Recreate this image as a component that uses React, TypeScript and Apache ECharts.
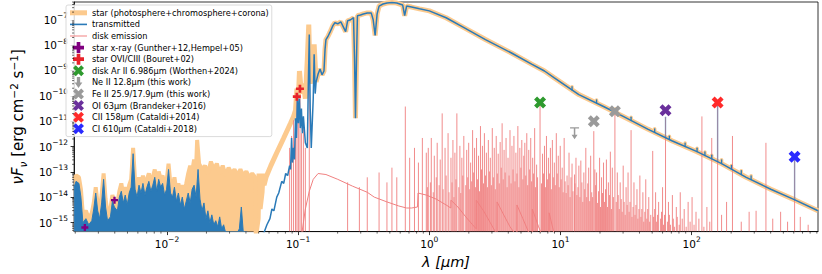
import React, { useEffect, useRef } from "react";
import * as echarts from "echarts";

const FONT = "DejaVu Sans";
// axis extents, log10 units
const xLogRange = [-2.708, 2.963];
const yLogRange = [-15.35, -6.3];

// All spectra below: [log10 λ (μm), log10 νFν (erg cm^-2 s^-1)]
const starXUV: number[][] = [
  [-2.708,-13.29],[-2.693,-13.14],[-2.671,-13.21],[-2.656,-13.68],[-2.641,-14.69],[-2.618,-14.53],[-2.596,-14.84],[-2.573,-14.61],[-2.558,-14.22],[-2.543,-13.60],[-2.528,-14.30],[-2.513,-14.53],[-2.498,-13.91],[-2.483,-13.06],[-2.468,-14.07],[-2.453,-14.61],[-2.431,-14.46],[-2.416,-13.91],[-2.401,-14.15],[-2.378,-14.22],[-2.363,-13.76],[-2.348,-13.45],[-2.333,-13.91],[-2.318,-13.60],[-2.303,-13.99],[-2.288,-13.52],[-2.273,-13.29],[-2.258,-12.05],[-2.243,-13.37],[-2.228,-13.68],[-2.213,-13.21],[-2.198,-13.52],[-2.183,-13.14],[-2.168,-13.60],[-2.153,-13.29],[-2.138,-13.06],[-2.123,-13.45],[-2.108,-13.21],[-2.093,-12.90],[-2.078,-13.45],[-2.063,-12.98],[-2.048,-13.29],[-2.033,-13.14],[-2.018,-13.60],[-2.003,-13.37],[-1.988,-12.67],[-1.973,-13.52],[-1.958,-13.60],[-1.943,-13.21],[-1.928,-13.76],[-1.913,-13.45],[-1.898,-13.83],[-1.883,-13.52],[-1.868,-13.83],[-1.853,-13.45],[-1.838,-13.06],[-1.823,-12.75],[-1.808,-12.98],[-1.793,-12.51],[-1.778,-12.83],[-1.770,-11.74],[-1.755,-12.67],[-1.733,-12.90],[-1.710,-12.75],[-1.688,-13.06],[-1.665,-12.59],[-1.643,-12.90],[-1.620,-12.67],[-1.598,-13.06],[-1.575,-12.75],[-1.553,-13.14],[-1.530,-12.83],[-1.508,-13.06],[-1.485,-12.90],[-1.463,-13.14],[-1.440,-12.90],[-1.418,-13.14],[-1.395,-12.98],[-1.373,-13.21],[-1.350,-13.06],[-1.328,-13.21],[-1.322,-15.6]
];
const starFUV: number[][] = [
  [-1.320,-15.39],[-1.305,-14.84],[-1.298,-13.06],[-1.290,-14.46],[-1.275,-13.80],[-1.268,-13.06],[-1.260,-13.52],[-1.245,-13.21],[-1.208,-12.75],[-1.163,-12.24],[-1.110,-11.66],[-1.058,-11.08],[-1.035,-10.81],[-1.020,-10.57],[-1.009,-9.72],[-0.998,-10.11],[-0.990,-9.02],[-0.975,-9.91],[-0.960,-9.52],[-0.945,-10.11],[-0.930,-8.55],[-0.919,-7.19],[-0.908,-9.52],[-0.893,-8.94],[-0.878,-7.97]
];
const transXUV: number[][] = [
  [-2.708,-13.60],[-2.693,-13.37],[-2.671,-13.45],[-2.656,-13.99],[-2.641,-15.00],[-2.618,-14.84],[-2.596,-15.08],[-2.573,-14.92],[-2.558,-14.46],[-2.543,-13.83],[-2.528,-14.53],[-2.513,-14.84],[-2.498,-14.22],[-2.483,-13.29],[-2.468,-14.38],[-2.453,-14.92],[-2.431,-14.77],[-2.416,-14.15],[-2.401,-14.38],[-2.378,-14.53],[-2.363,-13.99],[-2.348,-13.76],[-2.333,-14.22],[-2.318,-13.91],[-2.303,-14.30],[-2.288,-13.83],[-2.273,-13.60],[-2.258,-12.28],[-2.243,-13.68],[-2.228,-13.99],[-2.213,-13.52],[-2.198,-13.83],[-2.183,-13.45],[-2.168,-13.91],[-2.153,-13.60],[-2.138,-13.37],[-2.123,-13.76],[-2.108,-13.52],[-2.093,-13.21],[-2.078,-13.76],[-2.063,-13.29],[-2.048,-13.60],[-2.033,-13.45],[-2.018,-13.91],[-2.003,-13.68],[-1.988,-12.90],[-1.973,-13.83],[-1.958,-13.99],[-1.943,-13.60],[-1.928,-14.15],[-1.913,-13.83],[-1.898,-14.30],[-1.883,-13.99],[-1.868,-14.46],[-1.853,-14.15],[-1.838,-13.83],[-1.823,-14.22],[-1.808,-13.68],[-1.793,-13.52],[-1.778,-13.99],[-1.763,-12.90],[-1.748,-14.07],[-1.733,-14.53],[-1.718,-14.22],[-1.703,-14.84],[-1.688,-14.53],[-1.673,-15.00],[-1.658,-14.69],[-1.643,-15.08],[-1.628,-14.92],[-1.613,-15.16],[-1.598,-14.77],[-1.583,-15.24],[-1.568,-15.08],[-1.553,-15.39],[-1.523,-15.54],[-1.478,-15.54],[-1.448,-15.24],[-1.433,-14.38],[-1.418,-15.39],[-1.388,-15.54]
];
const transFUV: number[][] = [
  [-1.298,-15.54],[-1.260,-15.39],[-1.238,-15.08],[-1.215,-14.84],[-1.200,-14.46],[-1.185,-14.53],[-1.163,-13.99],[-1.148,-13.83],[-1.125,-13.37],[-1.110,-13.45],[-1.095,-13.06],[-1.080,-13.14],[-1.065,-12.75],[-1.058,-12.90],[-1.050,-11.66],[-1.043,-12.63],[-1.035,-12.05],[-1.028,-12.51],[-1.020,-10.88],[-1.013,-11.66],[-1.005,-9.91],[-0.998,-11.08],[-0.990,-10.11],[-0.983,-11.27],[-0.975,-10.50],[-0.968,-11.47],[-0.960,-10.81],[-0.945,-11.85],[-0.930,-12.05],[-0.923,-9.72],[-0.915,-7.58],[-0.908,-10.50],[-0.900,-12.05],[-0.885,-10.11],[-0.878,-8.36],[-0.870,-9.91]
];
const photosphere: number[][] = [
  [-0.863,-9.45],[-0.848,-9.14],[-0.833,-8.94],[-0.818,-9.17],[-0.803,-9.02],[-0.795,-8.17],[-0.788,-7.78],[-0.773,-7.66],[-0.758,-7.50],[-0.735,-7.23],[-0.720,-7.12],[-0.698,-7.16],[-0.675,-7.08],[-0.653,-7.31],[-0.638,-7.47],[-0.623,-7.04],[-0.600,-7.00],[-0.578,-6.92],[-0.570,-8.55],[-0.563,-10.88],[-0.555,-8.55],[-0.548,-6.84],[-0.525,-6.81],[-0.503,-6.77],[-0.473,-6.73],[-0.443,-6.73],[-0.428,-7.00],[-0.413,-7.62],[-0.398,-6.77],[-0.383,-6.46],[-0.353,-6.38],[-0.323,-6.34],[-0.285,-6.32],[-0.248,-6.34],[-0.203,-6.42],[-0.188,-6.84],[-0.173,-6.46],[-0.135,-6.50],[-0.075,-6.57],[0,-6.65],[0.128,-6.92],[0.278,-7.35],[0.428,-7.78],[0.630,-8.32],[0.780,-8.75],[0.878,-9.02],[0.953,-9.29],[1.140,-9.95],[1.328,-10.42],[1.478,-10.81],[1.665,-11.31],[1.853,-11.78],[2.041,-12.20],[2.228,-12.67],[2.416,-13.21],[2.603,-13.68],[2.791,-14.11],[2.963,-14.53]
];
// small line features on the long-wavelength tail: [log10 λ, log10 base, log10 peak]
const tailFeatures: number[][] = [
  [1.088,-9.77,-9.64],[1.275,-10.29,-10.16],[1.418,-10.65,-10.52],[1.538,-10.97,-10.84],[1.718,-11.44,-11.30],[1.830,-11.72,-11.59],[1.950,-12.00,-11.86],[2.041,-12.20,-12.06],[2.101,-12.35,-12.21],[2.153,-12.48,-12.34],[2.228,-12.67,-12.52],[2.303,-12.89,-12.74],[2.378,-13.10,-12.95],[2.453,-13.30,-13.15]
];
// transmitted line emission under the far-IR markers: [log10 λ, log10 base, log10 peak]
const tailStems: number[][] = [
  [1.8006,-11.65,-10.84],[2.1978,-12.59,-10.30],[2.7846,-14.10,-12.42]
];
const diskContinuum: number[][] = [
  [-0.975,-15.54],[-0.945,-14.46],[-0.915,-13.76],[-0.885,-13.29],[-0.848,-13.06],[-0.788,-13.10],[-0.698,-13.29],[-0.585,-13.56],[-0.473,-13.80],[-0.420,-13.99],[-0.323,-14.18],[-0.233,-14.34],[-0.173,-14.42],[-0.135,-14.42],[-0.090,-14.38],[-0.086,-13.83],[-0.023,-13.91],[0.053,-14.07],[0.128,-14.30],[0.164,-14.42],[0.1645,-14.11],[0.218,-14.38],[0.278,-14.77],[0.330,-15.08],[0.3575,-15.24],[0.358,-14.11],[0.413,-14.53],[0.465,-15.00],[0.5157,-15.47],[0.5165,-14.18],[0.563,-14.65],[0.615,-15.16],[0.6674,-15.54],[0.668,-14.30],[0.713,-14.84],[0.765,-15.47],[0.7845,-15.54],[0.785,-14.46],[0.833,-15.16],[0.863,-15.54],[0.9125,-15.54],[0.9135,-14.61],[0.953,-15.47],[0.968,-15.6]
];
const diskLinesUV: number[][] = [
  [-1.065,-12.05],[-1.050,-11.58],[-1.035,-10.96],[-1.020,-11.27],[-1.009,-10.18],[-0.998,-10.81],[-0.986,-9.95],[-0.975,-11.47],[-0.960,-11.19],[-0.945,-12.05],[-0.915,-8.94],
  [-0.623,-13.41],[-0.533,-13.60],[-0.473,-13.21],[-0.383,-13.02],[-0.323,-13.41],[-0.285,-12.83],[-0.248,-13.21],[-0.183,-10.42],[-0.150,-12.44],[-0.113,-12.05],[-0.083,-12.63],[-0.053,-11.66],[-0.023,-12.24]
];
const diskLinesIR: number[][] = [
  [-0.008,-12.05],[0.015,-11.66],[0.038,-12.36],[0.060,-11.85],[0.083,-12.51],[0.098,-10.69],[0.120,-12.05],[0.143,-11.47],[0.165,-12.44],[0.180,-11.74],[0.195,-12.24],[0.210,-10.69],[0.233,-11.97],[0.248,-12.44],[0.263,-11.58],[0.285,-12.13],[0.300,-11.85],[0.315,-12.63],[0.330,-11.35],[0.345,-12.05],[0.360,-11.66],[0.375,-12.36],[0.390,-11.19],[0.405,-11.97],[0.420,-11.47],[0.435,-12.24],[0.450,-11.74],[0.465,-12.44],[0.480,-11.27],[0.495,-12.05],[0.510,-11.58],[0.525,-12.28],[0.540,-11.82],[0.555,-11.08],[0.570,-12.13],[0.585,-11.66],[0.600,-12.44],[0.615,-11.35],[0.630,-11.97],[0.645,-11.58],[0.660,-12.24],[0.675,-11.19],[0.690,-12.05],[0.705,-11.74],[0.720,-12.36],[0.728,-11.85],[0.743,-11.47],[0.758,-12.13],[0.773,-11.66],[0.788,-12.44],[0.803,-11.27],[0.818,-12.71],[0.844,-10.26],[0.863,-12.28],[0.878,-11.97],[0.893,-11.58],[0.908,-12.44],[0.923,-12.05],[0.938,-11.74],[0.953,-12.63],[0.968,-11.47],[0.983,-12.36],[0.998,-11.97],[1.013,-12.83],[1.028,-11.66],[1.050,-13.14],[1.065,-12.24],[1.088,-12.67],[1.107,-13.10],[1.118,-12.44],[1.140,-12.75],[1.155,-12.55],[1.178,-13.02],[1.193,-12.05],[1.215,-12.83],[1.230,-12.36],[1.2538,-11.39],[1.262,-12.90],[1.275,-13.02],[1.298,-12.44],[1.313,-13.21],[1.328,-12.63],[1.350,-12.51],[1.365,-13.41],[1.380,-12.20],[1.395,-12.83],[1.4148,-10.57],[1.433,-13.02],[1.455,-13.41],[1.478,-12.75],[1.500,-13.60],[1.515,-13.02],[1.538,-11.35],[1.560,-13.41],[1.583,-13.68],[1.605,-13.14],[1.628,-13.80],[1.650,-13.29],[1.673,-13.99],[1.703,-12.17],[1.725,-13.80],[1.748,-14.18],[1.778,-13.60],[1.8006,-10.84],[1.823,-14.18],[1.853,-13.91],[1.883,-14.38],[1.913,-13.80],[1.943,-14.46],[1.973,-14.18],[2.003,-13.99],[2.033,-14.57],[2.078,-10.81],[2.116,-14.38],[2.153,-11.66],[2.1978,-10.26],[2.228,-14.69],[2.266,-14.18],[2.311,-11.58],[2.378,-14.96],[2.438,-14.57],[2.491,-14.53],[2.566,-11.85],[2.618,-14.84],[2.678,-14.57],[2.731,-14.96],[2.7846,-12.40],[2.828,-14.77],[2.888,-15.08]
];
const diskLinesWeak: number[][] = [
  [-0.015,-13.60],[0.008,-13.41],[0.030,-13.80],[0.053,-13.21],[0.075,-13.52],[0.105,-13.68],[0.128,-13.14],[0.150,-13.80],[0.173,-13.41],[0.188,-13.99],[0.203,-13.29],[0.225,-13.60],[0.240,-13.83],[0.255,-13.14],[0.278,-13.52],[0.293,-13.21],[0.308,-13.68],[0.323,-13.37],[0.338,-13.02],[0.353,-13.60],[0.368,-13.29],[0.383,-13.76],[0.398,-12.90],[0.413,-13.45],[0.428,-13.14],[0.443,-13.60],[0.458,-12.98],[0.473,-13.52],[0.488,-13.21],[0.503,-13.68],[0.518,-13.06],[0.533,-13.45],[0.548,-12.83],[0.563,-13.29],[0.578,-13.02],[0.593,-13.60],[0.608,-13.14],[0.623,-13.45],[0.638,-12.90],[0.653,-13.37],[0.668,-13.06],[0.683,-13.60],[0.698,-12.83],[0.713,-13.29],[0.735,-13.14],[0.750,-13.52],[0.765,-12.90],[0.780,-13.37],[0.795,-13.06],[0.810,-13.60],[0.825,-13.21],[0.855,-13.45],[0.870,-13.06],[0.885,-13.60],[0.900,-13.29],[0.915,-13.06],[0.930,-13.68],[0.945,-13.21],[0.960,-13.52],[0.975,-13.06],[0.990,-13.60],[1.005,-13.29],[1.020,-13.80],[1.035,-13.37],[1.043,-13.83],[1.058,-13.52],[1.073,-13.99],[1.080,-13.21],[1.095,-13.76],[1.110,-13.45],[1.125,-13.91],[1.133,-13.60],[1.148,-13.99],[1.163,-13.41],[1.170,-14.18],[1.185,-13.68],[1.200,-13.99],[1.208,-13.45],[1.223,-14.15],[1.238,-13.80],[1.245,-13.99],[1.268,-13.52],[1.283,-14.22],[1.290,-13.76],[1.305,-14.38],[1.320,-13.83],[1.335,-14.18],[1.343,-13.68],[1.358,-14.38],[1.373,-13.91],[1.388,-14.46],[1.403,-13.99],[1.425,-14.18],[1.440,-13.91],[1.448,-14.46],[1.463,-14.07],[1.470,-14.57],[1.485,-14.18],[1.493,-14.69],[1.508,-14.30],[1.523,-14.57],[1.530,-14.18],[1.545,-14.77],[1.553,-14.38],[1.568,-14.69],[1.575,-14.30],[1.590,-14.84],[1.598,-14.46],[1.613,-14.77],[1.620,-14.46],[1.635,-14.96],[1.643,-14.57],[1.658,-14.84],[1.665,-14.46],[1.680,-14.96],[1.688,-14.69],[1.710,-14.77],[1.718,-14.46],[1.733,-14.96],[1.740,-14.69],[1.763,-14.84],[1.770,-14.57],[1.785,-15.08],[1.793,-14.69],[1.815,-14.96],[1.830,-14.69],[1.838,-15.08],[1.860,-14.84],[1.868,-15.16],[1.890,-14.77],[1.905,-15.08],[1.928,-14.84],[1.958,-15.16],[1.988,-14.96],[2.018,-15.08],[2.055,-14.84],[2.093,-15.16],[2.138,-14.96]
];
// Observations: [log10 λ (μm), log10 νFν]
const xrayObs: number[][] = [[-2.626,-15.19],[-2.400,-14.11]];
const oviObs: number[][] = [[-0.9863,-9.72],[-1.010,-10.03]];
const arIIObs: number[][] = [[0.8443,-10.26]];
const neIIObs: number[][] = [[1.1072,-11.47]];
const feIIObs: number[][] = [[1.4148,-10.61],[1.2538,-11.00]];
const oIObs: number[][] = [[1.8006,-10.57]];
const cIIObs: number[][] = [[2.1978,-10.26]];
const cIObs: number[][] = [[2.7846,-12.40]];

const minorMultipliers = [2, 3, 4, 5, 6, 7, 8, 9];
const xDecades = [-3, -2, -1, 0, 1, 2];
const yDecades = [-16, -15, -14, -13, -12, -11, -10, -9, -8, -7];

const NAMES = {
  star: "star (photosphere+chromosphere+corona)",
  trans: "transmitted",
  disk: "disk emission",
  xray: "star x-ray (Gunther+12,Hempel+05)",
  ovi: "star OVI/CIII (Bouret+02)",
  ar: "disk Ar II 6.986μm (Worthen+2024)",
  ne: "Ne II 12.8μm (this work)",
  fe: "Fe II 25.9/17.9μm (this work)",
  oi: "OI 63μm (Brandeker+2016)",
  cii: "CII 158μm (Cataldi+2014)",
  ci: "CI 610μm (Cataldi+2018)",
};

const C = {
  star: "#fcca8e",
  trans: "#2a7ab8",
  disk: "#f08080",
  xray: "#800080",
  ovi: "#e8222a",
  ar: "#2e9a2e",
  gray: "#9a9a9a",
  oi: "#6a309c",
  cii: "#ff2a2a",
  ci: "#2a2aff",
};

const PLUS = "path://M-1,-3H1V-1H3V1H1V3H-1V1H-3V-1H-1Z";
const XMARK = "path://M141,-283L283,-141L141,0L283,141L141,283L0,141L-141,283L-283,141L-141,0L-283,-141L-141,-283L0,-141Z";
const ULIM = "path://M-30,-50H30V-40H5V10H20L0,45L-20,10H-5V-40H-30Z";
const ARROW = "path://M-15,-50H15V0H35L0,50L-35,0H-15Z";

const lin = (a: number[][]) => a.map((r) => r.map((v) => Math.pow(10, v)));

export default function App() {
  const ref = useRef<HTMLDivElement>(null);
  useEffect(() => {
    if (!ref.current) return;
    const chart = echarts.init(ref.current, null, { renderer: "svg" });
    const xMin = Math.pow(10, xLogRange[0]);
    const xMax = Math.pow(10, xLogRange[1]);
    const yMin = Math.pow(10, yLogRange[0]);
    const yMax = Math.pow(10, yLogRange[1]);

    const xMinor: number[][] = [];
    xDecades.forEach((d) => minorMultipliers.forEach((m) => {
      const v = m * Math.pow(10, d);
      if (v > xMin && v < xMax) xMinor.push([v, yMin]);
    }));
    const yMinor: number[][] = [];
    yDecades.forEach((d) => minorMultipliers.forEach((m) => {
      const v = m * Math.pow(10, d);
      if (v > yMin && v < yMax) yMinor.push([xMin, v]);
    }));

    const spikes = (color: string, width: number, opacity = 1) => (params: any, api: any) => {
      const x = api.value(0);
      const y = api.value(1);
      const p1 = api.coord([x, y]);
      const p0 = api.coord([x, yMin]);
      return {
        type: "line",
        shape: { x1: p0[0], y1: p0[1], x2: p1[0], y2: p1[1] },
        style: { stroke: color, lineWidth: width, opacity },
      };
    };
    const ticks = (color: string, width: number, opacity = 1) => (params: any, api: any) => {
      const x = api.value(0);
      const p0 = api.coord([x, api.value(1)]);
      const p1 = api.coord([x, api.value(2)]);
      return {
        type: "line",
        shape: { x1: p0[0], y1: p0[1], x2: p1[0], y2: p1[1] },
        style: { stroke: color, lineWidth: width, opacity, lineCap: "round" },
      };
    };

    const fmt = (v: number) => {
      const e = Math.round(Math.log10(v));
      return `{b|10}{s|${e < 0 ? "\u2212" : ""}${Math.abs(e)}}`;
    };
    const tickRich = {
      b: { fontSize: 10.5, fontFamily: FONT, color: "#000", lineHeight: 16 },
      s: { fontSize: 7.5, fontFamily: FONT, color: "#000", lineHeight: 7, verticalAlign: "top" },
    };

    const scatter = (name: string, data: number[][], symbol: string, size: any, color: string) => ({
      type: "scatter",
      name,
      data: lin(data),
      symbol,
      symbolSize: size,
      itemStyle: { color, opacity: 1 },
      z: 10,
    });

    const legendLine = (name: string, color: string, h: number) => ({
      name,
      icon: `path://M0,0H17V${h}H0Z`,
      itemStyle: { color, borderWidth: 0 },
    });
    const legendMark = (name: string, icon: string, color: string) => ({
      name,
      icon,
      itemStyle: { color, borderWidth: 0 },
    });

    const option: any = {
      animation: false,
      backgroundColor: "#ffffff",
      grid: {
        left: 62, right: 4, top: 2, bottom: 39,
        show: true, borderColor: "#000", borderWidth: 0.8, containLabel: false,
      },
      xAxis: {
        type: "log", logBase: 10, min: xMin, max: xMax,
        name: "λ [μm]", nameLocation: "middle", nameGap: 17,
        nameTextStyle: { fontSize: 14.5, fontFamily: FONT, fontStyle: "italic", color: "#000" },
        axisLine: { lineStyle: { color: "#000", width: 0.8 } },
        axisTick: { show: true, inside: false, length: 3.5, lineStyle: { color: "#000", width: 0.8 } },
        axisLabel: { formatter: fmt, rich: tickRich, margin: 4, showMinLabel: false, showMaxLabel: false },
        splitLine: { show: false },
      },
      yAxis: {
        type: "log", logBase: 10, min: yMin, max: yMax,
        name: "{i|νF}{is|ν}{n| [erg cm}{sp|−2}{n| s}{sp|−1}{n|]}",
        nameLocation: "middle", nameGap: 34, nameRotate: 90,
        nameTextStyle: {
          rich: {
            i: { fontSize: 15, fontFamily: FONT, fontStyle: "italic", color: "#000", lineHeight: 20 },
            is: { fontSize: 10.5, fontFamily: FONT, fontStyle: "italic", color: "#000", lineHeight: 13, verticalAlign: "bottom" },
            n: { fontSize: 15, fontFamily: FONT, color: "#000", lineHeight: 20 },
            sp: { fontSize: 10.5, fontFamily: FONT, color: "#000", lineHeight: 11, verticalAlign: "top" },
          },
        },
        axisLine: { lineStyle: { color: "#000", width: 0.8 } },
        axisTick: { show: true, inside: false, length: 3.5, lineStyle: { color: "#000", width: 0.8 } },
        axisLabel: { formatter: fmt, rich: tickRich, margin: 6, showMinLabel: false, showMaxLabel: false },
        splitLine: { show: false },
      },
      legend: {
        orient: "vertical", left: 66, top: 5,
        itemWidth: 17, itemHeight: 11, itemGap: 0,
        padding: [2, 3, 2, 4],
        backgroundColor: "rgba(255,255,255,0.85)",
        borderColor: "#d0d0d0", borderWidth: 0.8, borderRadius: 2,
        selectedMode: false,
        textStyle: { fontSize: 8.2, fontFamily: FONT, color: "#000", lineHeight: 11.6 },
        data: [
          legendLine(NAMES.star, C.star, 5),
          legendLine(NAMES.trans, C.trans, 1.6),
          legendLine(NAMES.disk, C.disk, 1),
          legendMark(NAMES.xray, PLUS, C.xray),
          legendMark(NAMES.ovi, PLUS, C.ovi),
          legendMark(NAMES.ar, XMARK, C.ar),
          legendMark(NAMES.ne, ARROW, C.gray),
          legendMark(NAMES.fe, XMARK, C.gray),
          legendMark(NAMES.oi, XMARK, C.oi),
          legendMark(NAMES.cii, XMARK, C.cii),
          legendMark(NAMES.ci, XMARK, C.ci),
        ],
      },
      series: [
        {
          type: "line", name: NAMES.star, data: lin(starFUV.concat(photosphere)),
          showSymbol: false, symbol: "none", lineStyle: { color: C.star, width: 5 }, z: 1,
        },
        {
          type: "line", name: NAMES.star, data: lin(starXUV),
          showSymbol: false, symbol: "none", lineStyle: { color: C.star, width: 4 },
          areaStyle: { color: C.star, opacity: 1, origin: "start" }, z: 1,
        },
        {
          type: "custom", name: NAMES.star, data: lin(tailFeatures), renderItem: ticks(C.star, 3.5), clip: true, z: 1,
        },
        {
          type: "line", name: NAMES.disk, data: lin(diskContinuum),
          showSymbol: false, symbol: "none", lineStyle: { color: C.disk, width: 1 }, z: 2,
        },
        {
          type: "custom", name: NAMES.disk, data: lin(diskLinesWeak), renderItem: spikes(C.disk, 1, 0.9), clip: true, z: 2,
        },
        {
          type: "custom", name: NAMES.disk, data: lin(diskLinesUV.concat(diskLinesIR)), renderItem: spikes(C.disk, 1, 0.9), clip: true, z: 2,
        },
        {
          type: "line", name: NAMES.trans, data: lin(transXUV),
          showSymbol: false, symbol: "none", lineStyle: { color: C.trans, width: 1 },
          areaStyle: { color: C.trans, opacity: 1, origin: "start" }, z: 3,
        },
        {
          type: "line", name: NAMES.trans, data: lin(transFUV.concat(photosphere)),
          showSymbol: false, symbol: "none", lineStyle: { color: C.trans, width: 1.5 }, z: 3,
        },
        {
          type: "custom", name: NAMES.trans, data: lin(tailFeatures), renderItem: ticks(C.trans, 1.3), clip: true, z: 3,
        },
        {
          type: "custom", name: NAMES.trans, data: lin(tailStems), renderItem: ticks(C.trans, 1.5, 0.45), clip: true, z: 3,
        },
        scatter(NAMES.xray, xrayObs, PLUS, 7, C.xray),
        scatter(NAMES.ovi, oviObs, PLUS, 8, C.ovi),
        scatter(NAMES.ar, arIIObs, XMARK, 12, C.ar),
        scatter(NAMES.ne, neIIObs, ULIM, [9, 12], C.gray),
        scatter(NAMES.fe, feIIObs, XMARK, 12, C.gray),
        scatter(NAMES.oi, oIObs, XMARK, 12, C.oi),
        scatter(NAMES.cii, cIIObs, XMARK, 12, C.cii),
        scatter(NAMES.ci, cIObs, XMARK, 12, C.ci),
        {
          type: "custom", name: "xminor", data: xMinor, clip: false, silent: true, z: 20,
          renderItem: (params: any, api: any) => {
            const p = api.coord([api.value(0), api.value(1)]);
            return { type: "line", shape: { x1: p[0], y1: p[1], x2: p[0], y2: p[1] + 2 }, style: { stroke: "#000", lineWidth: 0.6 } };
          },
        },
        {
          type: "custom", name: "yminor", data: yMinor, clip: false, silent: true, z: 20,
          renderItem: (params: any, api: any) => {
            const p = api.coord([api.value(0), api.value(1)]);
            return { type: "line", shape: { x1: p[0], y1: p[1], x2: p[0] - 2, y2: p[1] }, style: { stroke: "#000", lineWidth: 0.6 } };
          },
        },
      ],
    };
    chart.setOption(option);
    return () => chart.dispose();
  }, []);
  return <div ref={ref} style={{ position: "fixed", left: 0, top: 0, width: 822, height: 274 }} />;
}
